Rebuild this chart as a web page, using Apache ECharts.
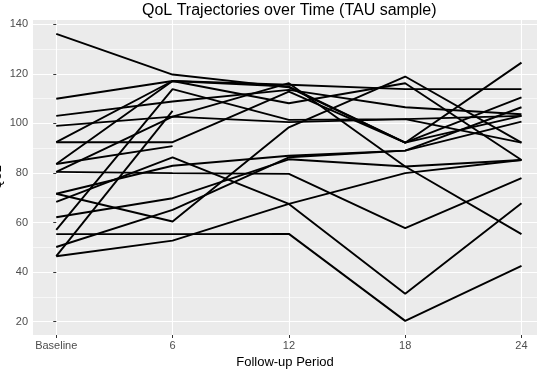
<!DOCTYPE html>
<html>
<head>
<meta charset="utf-8">
<script src="https://cdn.jsdelivr.net/npm/echarts@6/dist/echarts.min.js"></script>
<style>
  html, body { margin: 0; padding: 0; background: #fff; }
  #chart { width: 546px; height: 369px; }
</style>
</head>
<body>
<div id="chart"></div>
<script>
// follow-up months, 0 = Baseline
var visits = [0, 6, 12, 18, 24];
var visitLabels = ['Baseline', '6', '12', '18', '24'];
var yTicks = [20, 40, 60, 80, 100, 120, 140];
var yMinorTicks = [30, 50, 70, 90, 110, 130];

// QoL per participant at each visit (null = missing)
var p01 = [136.1, 119.7, 114.5, 92.2, 124.5];
var p02 = [109.9, 117.1, 115.6, 113.8, 113.8];
var p03 = [103.0, 108.8, 113.5, 106.5, 103.7];
var p04 = [99.0, 102.7, 100.5, 101.7, 92.2];
var p05 = [92.4, 92.4, 112.8, 92.2, 103.0];
var p06 = [92.4, 117.1, 108.1, 116.2, 85.2];
var p07 = [83.6, 117.1, 114.8, 92.2, 110.5];
var p08 = [83.6, 90.8, null, null, null];
var p09 = [80.4, 79.9, 79.6, 57.7, 77.9];
var p10 = [80.4, 102.7, 116.2, 82.6, 55.3];
var p11 = [71.6, 82.9, 86.9, 89.0, 106.5];
var p12 = [71.6, 60.4, 98.4, 118.9, 92.2];
var p13 = [68.3, 86.3, 67.5, 31.2, 67.8];
var p14 = [62.1, 69.8, 85.5, 82.6, 85.2];
var p15 = [57.0, 113.8, 101.4, 101.7, 103.0];
var p16 = [55.3, 55.3, 55.4, 20.3, 42.5];
var p17 = [50.1, 65.1, 86.3, 89.0, 100.7];
var p18 = [46.4, 52.7, 67.5, 79.9, 85.2];
var p19 = [46.4, 105.0, null, null, null];

var participants = [p01, p02, p03, p04, p05, p06, p07, p08, p09, p10,
                    p11, p12, p13, p14, p15, p16, p17, p18, p19];

var myChart = echarts.init(document.getElementById('chart'));

var series = participants.map(function (vals) {
    return {
        type: 'line',
        data: vals.map(function (v, i) { return [visits[i], v]; }),
        symbol: 'none',
        connectNulls: false,
        silent: true,
        lineStyle: { color: '#000', width: 1.9 }
    };
});

var font = 'Liberation Sans, Arial, sans-serif';

var option = {
    animation: false,
    title: {
        text: 'QoL Trajectories over Time (TAU sample)',
        left: 137,
        top: -2,
        textStyle: { color: '#000', fontWeight: 'normal', fontSize: 16, fontFamily: font }
    },
    grid: {
        left: 33,
        right: 9,
        top: 20,
        bottom: 34,
        outerBoundsMode: 'none',
        containLabel: false,
        show: true,
        backgroundColor: '#EBEBEB',
        borderWidth: 0
    },
    xAxis: {
        type: 'value',
        min: -1.2,
        max: 24.8,
        name: 'Follow-up Period',
        nameLocation: 'middle',
        nameGap: 21,
        nameMoveOverlap: false,
        nameTextStyle: { color: '#000', fontSize: 13, fontFamily: font },
        axisLine: { show: false },
        axisTick: { customValues: visits, length: 3, lineStyle: { color: '#333' } },
        axisLabel: {
            customValues: visits,
            margin: 5,
            color: '#4D4D4D',
            fontSize: 11,
            fontFamily: font,
            formatter: function (v) { return visitLabels[visits.indexOf(v)]; }
        },
        splitLine: { show: true, lineStyle: { color: '#fff', width: 1.1 } }
    },
    yAxis: [
        {
            type: 'value',
            position: 'left',
            min: 14.6,
            max: 141.7,
            name: 'QoL',
            nameLocation: 'middle',
            nameGap: 29,
            nameMoveOverlap: false,
            nameTextStyle: { color: '#000', fontSize: 13, fontFamily: font },
            axisLine: { show: false },
            axisTick: { show: true, customValues: yTicks, length: 3, lineStyle: { color: '#333' } },
            axisLabel: { customValues: yTicks, margin: 5, color: '#4D4D4D', fontSize: 11, fontFamily: font },
            splitLine: { show: true, lineStyle: { color: '#fff', width: 1.1 } }
        },
        {
            type: 'value',
            position: 'left',
            min: 14.6,
            max: 141.7,
            axisLine: { show: false },
            axisTick: { show: false, customValues: yMinorTicks },
            axisLabel: { show: false, customValues: yMinorTicks },
            splitLine: { show: true, lineStyle: { color: '#fff', width: 0.6 } }
        }
    ],
    series: series
};

myChart.setOption(option);
</script>
</body>
</html>
